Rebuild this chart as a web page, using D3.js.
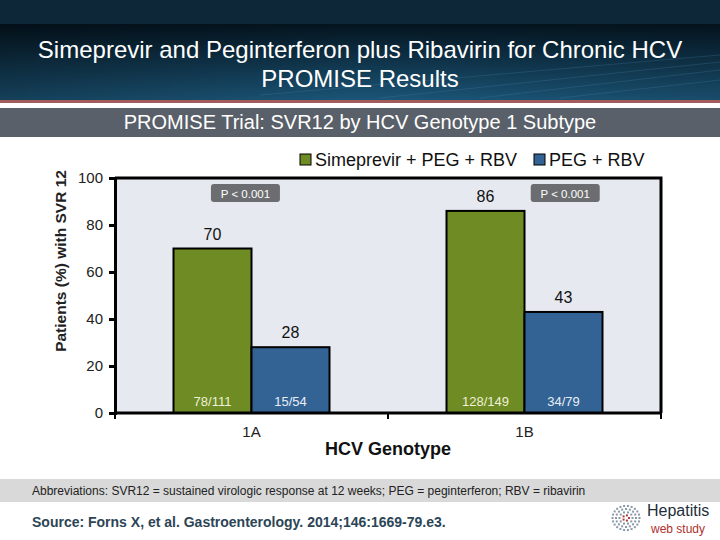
<!DOCTYPE html>
<html><head><meta charset="utf-8">
<script src="https://cdn.jsdelivr.net/npm/d3@7"></script>
<style>body{margin:0;background:#fff}svg{display:block;font-family:Arial,"Liberation Sans",sans-serif}</style>
</head><body><svg id="c" width="720" height="540"></svg>
<script>
const categories = ["1A", "1B"];
const seriesNames = ["Simeprevir + PEG + RBV", "PEG + RBV"];
const simeprevirValues = [70, 86];
const pegValues = [28, 43];
const simeprevirCounts = ["78/111", "128/149"];
const pegCounts = ["15/54", "34/79"];
const pValues = ["P < 0.001", "P < 0.001"];
const yTicks = [0, 20, 40, 60, 80, 100];
const colors = ["#6e8b24", "#326394"];

(function(){
const svg = d3.select("#c");
const defs = svg.append("defs");
const g1 = defs.append("linearGradient").attr("id","hdr").attr("x1",0).attr("y1",0).attr("x2",0).attr("y2",1);
g1.append("stop").attr("offset",0).attr("stop-color","#04141f");
g1.append("stop").attr("offset",1).attr("stop-color","#1b5577");
const g2 = defs.append("linearGradient").attr("id","hdr2").attr("x1",0).attr("y1",0).attr("x2",1).attr("y2",0);
g2.append("stop").attr("offset",0).attr("stop-color","#000").attr("stop-opacity",0.25);
g2.append("stop").attr("offset",0.5).attr("stop-color","#000").attr("stop-opacity",0);
g2.append("stop").attr("offset",1).attr("stop-color","#000").attr("stop-opacity",0.1);

// header
svg.append("rect").attr("x",0).attr("y",0).attr("width",720).attr("height",24).attr("fill","#0d2738");
svg.append("rect").attr("x",0).attr("y",24).attr("width",720).attr("height",76).attr("fill","url(#hdr)");
svg.append("rect").attr("x",0).attr("y",24).attr("width",720).attr("height",76).attr("fill","url(#hdr2)");
[[380,98,720,62],[480,98,720,70],[560,98,720,80],[260,95,720,55]].forEach(l=>{
  svg.append("line").attr("x1",l[0]).attr("y1",l[1]).attr("x2",l[2]).attr("y2",l[3]).attr("stroke","#4a86aa").attr("stroke-opacity",0.25).attr("stroke-width",1);
});
svg.append("rect").attr("x",0).attr("y",100).attr("width",720).attr("height",3).attr("fill","#a35c5c");
svg.append("text").attr("x",360).attr("y",58).attr("text-anchor","middle").attr("fill","#fff").attr("font-size",24).text("Simeprevir and Peginterferon plus Ribavirin for Chronic HCV");
svg.append("text").attr("x",360).attr("y",87).attr("text-anchor","middle").attr("fill","#fff").attr("font-size",24).text("PROMISE Results");

// subtitle bar
svg.append("rect").attr("x",0).attr("y",108).attr("width",720).attr("height",29).attr("fill","#596069");
svg.append("text").attr("x",360).attr("y",129).attr("text-anchor","middle").attr("fill","#fff").attr("font-size",20).text("PROMISE Trial: SVR12 by HCV Genotype 1 Subtype");

// plot
const pL = 115, pR = 661, pT = 178, pB = 413;
const x = d3.scaleBand().domain(categories).range([pL, pR]).paddingInner(0.4286).paddingOuter(0.2143);
const xs = d3.scaleBand().domain([0,1]).range([0, x.bandwidth()]);
const y = d3.scaleLinear().domain([0, 100]).range([pB, pT]);

svg.append("rect").attr("x",pL).attr("y",pT).attr("width",pR-pL).attr("height",pB-pT).attr("fill","#e6e9f0");
svg.append("path").attr("d",`M${pL},${pT}H${pR}V${pB}`).attr("fill","none").attr("stroke","#000").attr("stroke-width",3);

const data = categories.map((c,i)=>({cat:c, vals:[simeprevirValues[i], pegValues[i]], counts:[simeprevirCounts[i], pegCounts[i]]}));
const grp = svg.selectAll("g.grp").data(data).join("g").attr("class","grp").attr("transform",d=>`translate(${x(d.cat)},0)`);
grp.selectAll("rect").data(d=>d.vals.map((v,j)=>({v,j}))).join("rect")
  .attr("x",d=>xs(d.j)).attr("y",d=>y(d.v)).attr("width",xs.bandwidth()).attr("height",d=>y(0)-y(d.v))
  .attr("fill",d=>colors[d.j]).attr("stroke","#000").attr("stroke-width",2);
grp.selectAll("text.val").data(d=>d.vals.map((v,j)=>({v,j}))).join("text").attr("class","val")
  .attr("x",d=>xs(d.j)+xs.bandwidth()/2).attr("y",d=>y(d.v)-9).attr("text-anchor","middle")
  .attr("font-size",16).attr("fill","#111").text(d=>d.v);
grp.selectAll("text.cnt").data(d=>d.counts.map((v,j)=>({v,j}))).join("text").attr("class","cnt")
  .attr("x",d=>xs(d.j)+xs.bandwidth()/2).attr("y",pB-7).attr("text-anchor","middle")
  .attr("font-size",13).attr("fill",(d)=>d.j===0?"#eef0d8":"#e8eef6").text(d=>d.v);

// p-value boxes
const pPos = [x(categories[0]) + xs.bandwidth()*0.48, x(categories[1]) + xs.bandwidth()*1.08];
pValues.forEach((p,i)=>{
  svg.append("rect").attr("x",pPos[i]).attr("y",184).attr("width",69).attr("height",18).attr("rx",3).attr("fill","#6b6d70");
  svg.append("text").attr("x",pPos[i]+34.5).attr("y",197.5).attr("text-anchor","middle").attr("fill","#fff").attr("font-size",11.5).text(p);
});

// y axis
const yAxis = svg.append("g").attr("transform",`translate(${pL},0)`)
  .call(d3.axisLeft(y).tickValues(yTicks).tickSize(6).tickPadding(6));
yAxis.select(".domain").attr("stroke","#000").attr("stroke-width",3);
yAxis.selectAll(".tick line").attr("stroke","#000").attr("stroke-width",3);
yAxis.selectAll(".tick text").attr("font-size",15).attr("fill","#222").attr("font-family","Arial, 'Liberation Sans', sans-serif");

// x axis
const xAxis = svg.append("g").attr("transform",`translate(0,${pB})`)
  .call(d3.axisBottom(x).tickSize(0).tickPadding(10));
xAxis.select(".domain").attr("stroke","#000").attr("stroke-width",3).attr("d",`M${pL},0H${pR}`);
xAxis.selectAll(".tick text").attr("font-size",15).attr("fill","#222").attr("font-family","Arial, 'Liberation Sans', sans-serif").attr("dy","0.9em");
const boundaries = [pL, (x(categories[0])+x.bandwidth()+x(categories[1]))/2, pR];
svg.selectAll("line.xt").data(boundaries).join("line").attr("class","xt")
  .attr("x1",d=>d).attr("x2",d=>d).attr("y1",pB).attr("y2",pB+6).attr("stroke","#000").attr("stroke-width",2);

svg.append("text").attr("x",388).attr("y",455).attr("text-anchor","middle").attr("font-size",18).attr("font-weight","bold").attr("fill","#111").text("HCV Genotype");
svg.append("text").attr("transform","translate(66,261) rotate(-90)").attr("text-anchor","middle").attr("font-size",15.5).attr("font-weight","bold").attr("fill","#222").text("Patients  (%) with SVR 12");

// legend
const legX = [300, 534];
seriesNames.forEach((n,i)=>{
  svg.append("rect").attr("x",legX[i]).attr("y",154).attr("width",11).attr("height",11).attr("fill",colors[i]).attr("stroke","#000").attr("stroke-width",1);
  svg.append("text").attr("x",legX[i]+15).attr("y",166).attr("font-size",18).attr("fill","#111").text(n);
});

// abbreviations
svg.append("rect").attr("x",0).attr("y",479).attr("width",720).attr("height",23).attr("fill","#d9d9d9");
svg.append("text").attr("x",32).attr("y",495).attr("font-size",12).attr("fill","#222").text("Abbreviations: SVR12 = sustained virologic response at 12 weeks; PEG = peginterferon; RBV = ribavirin");
svg.append("text").attr("x",32).attr("y",527).attr("font-size",14).attr("font-weight","bold").attr("fill","#2c4556").text("Source: Forns X, et al.  Gastroenterology. 2014;146:1669-79.e3.");

// logo
const lg = svg.append("g").attr("transform","translate(626,518)");
for (let r=3; r<=14; r+=3.5) {
  const n = Math.round(r*1.6);
  for (let k=0;k<n;k++){
    const a = k/n*2*Math.PI;
    lg.append("rect").attr("x",r*Math.cos(a)-1).attr("y",r*Math.sin(a)*0.9-1).attr("width",2).attr("height",2)
      .attr("fill", r<5 ? "#b23a3a" : "#8a98a8");
  }
}
svg.append("text").attr("x",647).attr("y",516).attr("font-size",16).attr("fill","#1e2e3a").text("Hepatitis");
svg.append("text").attr("x",651).attr("y",533).attr("font-size",12).attr("fill","#b03030").text("web study");
})();
</script></body></html>
